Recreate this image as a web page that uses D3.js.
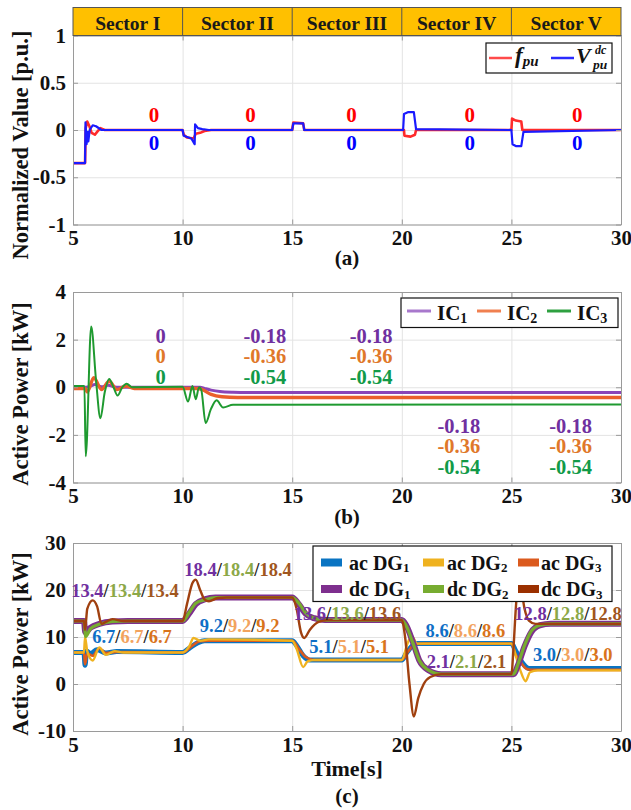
<!DOCTYPE html>
<html>
<head>
<meta charset="utf-8">
<script src="https://cdn.jsdelivr.net/npm/d3@7"></script>
<style>
body { margin: 0; background: #fff; }
svg { display: block; }
</style>
</head>
<body>
<div id="vis"></div>
<script>
const FRAME_WIDTH = 631;
const FRAME_HEIGHT = 810;
const PLOT_LEFT = 73, PLOT_RIGHT = 621;
const SERIF = "'Liberation Serif', 'Times New Roman', serif";
const GRID = "#e3e3e3";

// ------------------------------------------------------------
// data
// ------------------------------------------------------------
const TIME_TICKS = [5, 10, 15, 20, 25, 30];
const SECTORS = ["Sector I", "Sector II", "Sector III", "Sector IV", "Sector V"];

// (a) normalized values
const A_TICKS = [-1, -0.5, 0, 0.5, 1];
const fPu = [[5,-0.35],[5.55,-0.35],[5.58,0.02],[5.65,0.09],[5.75,0.04],[5.85,-0.03],[6.0,-0.05],
  [6.1,-0.02],[6.25,0.02],[6.45,0],[10.0,0],[10.05,-0.05],[10.2,-0.08],[10.5,-0.09],[10.6,-0.04],
  [10.8,-0.03],[11.0,-0.01],[11.3,0],[15.0,0],[15.05,0.08],[15.5,0.07],[15.55,0],[20.1,0],
  [20.12,-0.06],[20.4,-0.07],[20.6,-0.05],[20.65,0],[25.0,0],[25.03,0.12],[25.2,0.1],[25.45,0.09],
  [25.5,0],[30,0]];
const vDcPu = [[5,-0.35],[5.55,-0.35],[5.57,0.08],[5.62,-0.15],[5.66,-0.02],[5.7,-0.12],[5.76,0],
  [5.9,0.05],[6.05,0.04],[6.3,0],[10.0,0],[10.05,-0.06],[10.4,-0.09],[10.55,-0.15],[10.57,0.06],
  [10.7,0.02],[10.9,0.01],[11.2,0],[15.0,0],[15.05,0.07],[15.5,0.07],[15.55,0],[20.06,0],
  [20.1,0.17],[20.3,0.19],[20.55,0.19],[20.65,0.01],[25.0,0],[25.05,-0.15],[25.2,-0.17],
  [25.45,-0.17],[25.55,-0.02],[30,0]];
const A_NOTE_TIMES = [8.7, 13.1, 17.7, 23.1, 28.0];
const A_NOTES_F = ["0", "0", "0", "0", "0"];
const A_NOTES_V = ["0", "0", "0", "0", "0"];

// (b) interlinking converter power
const B_TICKS = [-4, -2, 0, 2, 4];
const ic1 = [[5,0],[5.6,0],[5.8,0.05],[6.0,0.12],[6.3,0.02],[6.6,0.08],[7.0,0],[10.8,0],[11.0,-0.05],
  [11.3,-0.12],[11.7,-0.18],[12.3,-0.21],[13,-0.22],[30,-0.22]];
const ic2 = [[5,-0.05],[5.55,-0.05],[5.65,-0.2],[5.95,0.4],[6.3,-0.1],[6.65,0.25],[7.0,-0.1],[7.4,0.05],
  [7.8,-0.05],[10.7,-0.05],[10.9,-0.1],[11.3,-0.3],[11.8,-0.4],[12.5,-0.43],[30,-0.43]];
const ic3 = [[5,0.05],[5.52,0.05],[5.58,-2.9],[5.83,2.55],[6.05,0.3],[6.25,-1.3],[6.45,-0.2],[6.65,0.35],
  [6.85,0],[7.03,-0.35],[7.25,0],[7.45,0.15],[7.7,0],[10.0,0.02],[10.25,-0.6],[10.45,0.05],[10.6,-0.5],
  [10.75,0],[10.85,-0.1],[11.05,-1.5],[11.3,-0.9],[11.55,-0.55],[11.85,-0.85],[12.3,-0.74],[30,-0.72]];
const B_NOTE_TIMES = [9.0, 13.75, 18.6, 22.6, 27.7];
const B_NOTES_IC1 = ["0", "-0.18", "-0.18", "-0.18", "-0.18"];
const B_NOTES_IC2 = ["0", "-0.36", "-0.36", "-0.36", "-0.36"];
const B_NOTES_IC3 = ["0", "-0.54", "-0.54", "-0.54", "-0.54"];

// (c) DG power
const C_TICKS = [-10, 0, 10, 20, 30];
const acDg1 = [[5,6.7],[5.5,6.7],[5.55,4],[5.62,7],[5.8,6.5],[6.1,7.3],[6.5,6.6],[7,6.9],[10,6.7],[10.3,7.6],
  [10.7,8.8],[11,9.2],[15,9.2],[15.2,8.2],[15.5,6],[15.8,5.1],[20,5.1],[20.2,6.5],[20.5,8.2],[20.7,8.6],
  [25,8.6],[25.2,7],[25.5,4.5],[25.8,3.3],[30,3.3]];
const acDg2 = [[5,6.7],[5.5,6.7],[5.55,10],[5.65,7],[5.9,5],[6.2,7.8],[6.5,6.2],[6.9,7],[7.3,6.7],[10,6.7],
  [10.3,8],[10.5,9.8],[10.8,9.2],[11.2,9.5],[15,9.2],[15.2,7.5],[15.5,3.6],[15.7,4.8],[16,5.1],[20,5.1],
  [20.25,8.5],[20.45,10.2],[20.7,8.6],[25,8.6],[25.2,6],[25.4,3],[25.65,0.6],[25.85,2.5],[26.2,2.9],[30,2.9]];
const acDg3 = [[5,6.7],[5.5,6.7],[5.55,4.2],[5.65,6.5],[5.9,6],[6.2,7.6],[6.5,6.6],[7,6.8],[10,6.7],[10.4,8],
  [10.8,9.1],[11.2,9.2],[15,9.2],[15.3,7.5],[15.6,5.8],[16,5.1],[20,5.1],[20.3,7],[20.6,8.5],[21,8.6],
  [25,8.6],[25.2,6.2],[25.4,4.8],[25.7,3.2],[26,3.0],[30,3.0]];
const dcDg1 = [[5,13.4],[5.5,13.4],[5.56,11],[5.8,12],[6.2,12.8],[6.8,13.3],[7.5,13.4],[10,13.4],[10.3,15],
  [10.6,17],[11,18],[11.5,18.4],[15,18.4],[15.3,17],[15.6,15],[16,14],[16.5,13.6],[20,13.6],[20.2,12.5],
  [20.5,9],[20.8,5],[21.2,3],[21.8,2.1],[25.1,2.1],[25.3,4],[25.6,8],[25.9,11],[26.3,12.5],[26.8,12.8],[30,12.8]];
const dcDg2 = [[5,13.4],[5.5,13.4],[5.58,10.1],[5.8,11.8],[6.2,12.7],[6.8,13.3],[7.5,13.4],[10,13.4],[10.3,15.2],
  [10.6,17.2],[11,17.9],[11.5,18.4],[15,18.4],[15.3,17.2],[15.6,15.2],[16,14],[16.5,13.6],[20,13.6],[20.2,12.4],
  [20.5,8.8],[20.8,5],[21.2,3],[21.8,2.1],[25.1,2.1],[25.3,4.2],[25.6,8.2],[25.9,11.2],[26.3,12.5],[26.8,12.8],[30,12.8]];
const dcDg3 = [[5,13.4],[5.5,13.4],[5.55,11.5],[5.65,16],[5.9,17.8],[6.1,16.5],[6.3,12.8],[6.5,13.2],[6.8,13.8],
  [7.3,13.4],[10,13.4],[10.2,17],[10.45,21.5],[10.6,22.2],[10.8,20],[11.0,18],[11.2,17.6],[11.6,18.3],[12,18.4],
  [15,18.4],[15.2,16],[15.4,11],[15.55,9.8],[15.8,11.5],[16.2,13.2],[16.6,13.6],[20,13.6],[20.15,10],[20.35,0],
  [20.55,-6.9],[20.75,-3],[21,0],[21.3,1.5],[21.8,2.1],[25,2.1],[25.1,8],[25.2,16],[25.3,21],[25.45,20],
  [25.6,16],[25.8,13.5],[26.1,12.8],[30,12.8]];
const C_NOTES_DC = ["13.4", "18.4", "13.6", "2.1", "12.8"];
const C_NOTES_AC = ["6.7", "9.2", "5.1", "8.6", "3.0"];

// ------------------------------------------------------------
// layout
// ------------------------------------------------------------
const PANEL_A = {top: 35.5, bottom: 224.5};
const PANEL_B = {top: 292, bottom: 482.5};
const PANEL_C = {top: 543, bottom: 731};

const svg = d3.select("#vis").append("svg")
  .attr("width", FRAME_WIDTH).attr("height", FRAME_HEIGHT)
  .attr("font-family", SERIF).attr("font-weight", "bold");

const X = d3.scaleLinear().domain([5, 30]).range([PLOT_LEFT, PLOT_RIGHT]);
const YA = d3.scaleLinear().domain([-1, 1]).range([PANEL_A.bottom, PANEL_A.top]);
const YB = d3.scaleLinear().domain([-4, 4]).range([PANEL_B.bottom, PANEL_B.top]);
const YC = d3.scaleLinear().domain([-10, 30]).range([PANEL_C.bottom, PANEL_C.top]);

function drawGrid(Y, yTicks, p, id) {
  const h = p.bottom - p.top, w = PLOT_RIGHT - PLOT_LEFT;
  svg.append("rect").attr("x", PLOT_LEFT).attr("y", p.top).attr("width", w).attr("height", h).attr("fill", "#fff");
  svg.append("g").attr("transform", "translate(0," + p.bottom + ")")
    .call(d3.axisBottom(X).tickValues(TIME_TICKS).tickSize(-h).tickFormat(""))
    .call(g => g.select(".domain").remove())
    .selectAll("line").attr("stroke", GRID);
  svg.append("g").attr("transform", "translate(" + PLOT_LEFT + ",0)")
    .call(d3.axisLeft(Y).tickValues(yTicks).tickSize(-w).tickFormat(""))
    .call(g => g.select(".domain").remove())
    .selectAll("line").attr("stroke", GRID);
  svg.append("clipPath").attr("id", id).append("rect")
    .attr("x", PLOT_LEFT).attr("y", p.top).attr("width", w).attr("height", h);
  return svg.append("g").attr("clip-path", "url(#" + id + ")");
}

function drawAxes(Y, yTicks, p) {
  const style = g => g.attr("font-family", SERIF).attr("font-size", 21).attr("font-weight", "bold")
    .call(s => s.select(".domain").attr("stroke", "#9a9a9a"))
    .call(s => s.selectAll(".tick line").attr("stroke", "#9a9a9a"))
    .call(s => s.selectAll("text").attr("fill", "#111"));
  svg.append("g").attr("transform", "translate(0," + p.bottom + ")")
    .call(d3.axisBottom(X).tickValues(TIME_TICKS).tickSize(-5).tickPadding(6).tickSizeOuter(0)).call(style);
  svg.append("g").attr("transform", "translate(0," + p.top + ")")
    .call(d3.axisTop(X).tickValues(TIME_TICKS).tickSize(-5).tickFormat("").tickSizeOuter(0)).call(style);
  svg.append("g").attr("transform", "translate(" + PLOT_LEFT + ",0)")
    .call(d3.axisLeft(Y).tickValues(yTicks).tickSize(-5).tickPadding(7).tickSizeOuter(0)
      .tickFormat(d => String(d))).call(style);
  svg.append("g").attr("transform", "translate(" + PLOT_RIGHT + ",0)")
    .call(d3.axisRight(Y).tickValues(yTicks).tickSize(-5).tickFormat("").tickSizeOuter(0)).call(style);
}

function yTitle(text, cy) {
  svg.append("text").attr("transform", "translate(28," + cy + ") rotate(-90)")
    .attr("text-anchor", "middle").attr("font-size", 22.5).attr("fill", "#111").text(text);
}

function caption(text, y) {
  svg.append("text").attr("x", X(17.5)).attr("y", y).attr("text-anchor", "middle")
    .attr("font-size", 21).attr("fill", "#111").text(text);
}

function path(g, Y, data, color, width, curve) {
  g.append("path").datum(data)
    .attr("fill", "none").attr("stroke", color).attr("stroke-width", width)
    .attr("stroke-linejoin", "round")
    .attr("d", d3.line().x(d => X(d[0])).y(d => Y(d[1])).curve(curve));
}

// ------------------------------------------------------------
// (a)
// ------------------------------------------------------------
const gA = drawGrid(YA, A_TICKS, PANEL_A, "clipA");
path(gA, YA, fPu, "#ff2a2a", 2.6, d3.curveLinear);
path(gA, YA, vDcPu, "#1a1aff", 2.2, d3.curveLinear);
drawAxes(YA, A_TICKS, PANEL_A);

// sector header
svg.append("rect").attr("x", PLOT_LEFT).attr("y", 7.5).attr("width", PLOT_RIGHT - PLOT_LEFT).attr("height", 28)
  .attr("fill", "#ffc000").attr("stroke", "#555").attr("stroke-width", 1);
svg.selectAll(".divider").data(TIME_TICKS.slice(1, -1)).enter().append("line")
  .attr("x1", d => X(d)).attr("x2", d => X(d)).attr("y1", 7.5).attr("y2", 35.5)
  .attr("stroke", "#555").attr("stroke-width", 1);
svg.selectAll(".sector").data(SECTORS).enter().append("text")
  .attr("x", (d, i) => X(TIME_TICKS[i] + 2.5)).attr("y", 29.5)
  .attr("text-anchor", "middle").attr("font-size", 19.5).attr("fill", "#1a1a1a").text(d => d);

svg.selectAll(".noteF").data(A_NOTES_F).enter().append("text")
  .attr("x", (d, i) => X(A_NOTE_TIMES[i])).attr("y", YA(0.166)).attr("dy", "0.35em")
  .attr("text-anchor", "middle").attr("font-size", 21).attr("fill", "#ff0000").text(d => d);
svg.selectAll(".noteV").data(A_NOTES_V).enter().append("text")
  .attr("x", (d, i) => X(A_NOTE_TIMES[i])).attr("y", YA(-0.13)).attr("dy", "0.35em")
  .attr("text-anchor", "middle").attr("font-size", 21).attr("fill", "#0000ff").text(d => d);

// legend (a)
const legA = svg.append("g");
legA.append("rect").attr("x", 486).attr("y", 43).attr("width", 126).attr("height", 30)
  .attr("fill", "#fff").attr("stroke", "#111").attr("stroke-width", 1.2);
legA.append("line").attr("x1", 489).attr("x2", 512).attr("y1", 58).attr("y2", 58)
  .attr("stroke", "#ff4a4a").attr("stroke-width", 2.5);
legA.append("line").attr("x1", 551).attr("x2", 574).attr("y1", 58).attr("y2", 58)
  .attr("stroke", "#2a2aff").attr("stroke-width", 2.5);
const fTxt = legA.append("text").attr("x", 515).attr("y", 63).attr("font-style", "italic").attr("fill", "#111");
fTxt.append("tspan").attr("font-size", 23).text("f");
fTxt.append("tspan").attr("font-size", 15).attr("dy", 3).text("pu");
legA.append("text").attr("x", 576).attr("y", 63).attr("font-style", "italic").attr("font-size", 22)
  .attr("fill", "#111").text("V");
legA.append("text").attr("x", 595).attr("y", 54).attr("font-style", "italic").attr("font-size", 12)
  .attr("fill", "#111").text("dc");
legA.append("text").attr("x", 593).attr("y", 69).attr("font-style", "italic").attr("font-size", 13.5)
  .attr("fill", "#111").text("pu");

yTitle("Normalized Value [p.u.]", 145);
caption("(a)", 265);

// ------------------------------------------------------------
// (b)
// ------------------------------------------------------------
const gB = drawGrid(YB, B_TICKS, PANEL_B, "clipB");
path(gB, YB, ic1, "#8a45b8", 3, d3.curveMonotoneX);
path(gB, YB, ic2, "#ea5f2a", 3.4, d3.curveMonotoneX);
path(gB, YB, ic3, "#1f9a30", 2, d3.curveMonotoneX);
drawAxes(YB, B_TICKS, PANEL_B);

const B_COLORS = ["#7030a0", "#e0782a", "#119a48"];
const B_NOTE_Y_UP = [2.17, 1.33, 0.45];
const B_NOTE_Y_LOW = [-1.6, -2.45, -3.33];
[B_NOTES_IC1, B_NOTES_IC2, B_NOTES_IC3].forEach((notes, r) => {
  svg.selectAll(".noteB" + r).data(notes).enter().append("text")
    .attr("x", (d, i) => X(B_NOTE_TIMES[i]))
    .attr("y", (d, i) => YB(i < 3 ? B_NOTE_Y_UP[r] : B_NOTE_Y_LOW[r])).attr("dy", "0.35em")
    .attr("text-anchor", "middle").attr("font-size", 20.5).attr("fill", B_COLORS[r]).text(d => d);
});

// legend (b)
const legB = svg.append("g");
legB.append("rect").attr("x", 401).attr("y", 298).attr("width", 217).attr("height", 29.5)
  .attr("fill", "#fff").attr("stroke", "#111").attr("stroke-width", 1.2);
const B_LEG_X = [407, 477, 547];
const B_LEG_COLORS = ["#a878cc", "#f08050", "#2ea040"];
["1", "2", "3"].forEach((s, i) => {
  legB.append("line").attr("x1", B_LEG_X[i]).attr("x2", B_LEG_X[i] + 24).attr("y1", 311).attr("y2", 311)
    .attr("stroke", B_LEG_COLORS[i]).attr("stroke-width", 3);
  const t = legB.append("text").attr("x", B_LEG_X[i] + 30).attr("y", 319.5).attr("fill", "#111");
  t.append("tspan").attr("font-size", 21).text("IC");
  t.append("tspan").attr("font-size", 14).attr("dy", 3).text(s);
});

yTitle("Active Power [kW]", 394);
caption("(b)", 524);

// ------------------------------------------------------------
// (c)
// ------------------------------------------------------------
const gC = drawGrid(YC, C_TICKS, PANEL_C, "clipC");
path(gC, YC, acDg1, "#0a74c2", 5, d3.curveMonotoneX);
path(gC, YC, acDg3, "#db5a1e", 2.6, d3.curveMonotoneX);
path(gC, YC, acDg2, "#efb21f", 2.4, d3.curveMonotoneX);
path(gC, YC, dcDg1, "#7e2f8e", 6, d3.curveMonotoneX);
path(gC, YC, dcDg2, "#77ac30", 3.2, d3.curveMonotoneX);
path(gC, YC, dcDg3, "#a0400f", 2.4, d3.curveMonotoneX);
drawAxes(YC, C_TICKS, PANEL_C);

const C_DC_COLORS = ["#7030a0", "#8ca848", "#a0561e"];
const C_AC_COLORS = ["#0f6fc6", "#f2a35e", "#d9741c"];
const C_DC_POS = [[7.37, 19.9], [12.53, 24.3], [17.52, 15.1], [22.95, 4.7], [27.58, 15.1]];
const C_AC_POS = [[7.69, 10.06], [12.6, 12.4], [17.6, 7.9], [22.9, 11.3], [27.8, 6.2]];
function tripleNote(value, pos, colors) {
  const t = svg.append("text").attr("x", X(pos[0])).attr("y", YC(pos[1])).attr("dy", "0.35em")
    .attr("text-anchor", "middle").attr("font-size", 18.5);
  colors.forEach((c, k) => {
    t.append("tspan").attr("fill", c).text(value);
    if (k < 2) t.append("tspan").attr("fill", "#222").text("/");
  });
}
C_NOTES_DC.forEach((v, i) => tripleNote(v, C_DC_POS[i], C_DC_COLORS));
C_NOTES_AC.forEach((v, i) => tripleNote(v, C_AC_POS[i], C_AC_COLORS));

// legend (c)
const legC = svg.append("g");
legC.append("rect").attr("x", 313).attr("y", 546).attr("width", 299).attr("height", 55.5)
  .attr("fill", "#fff").attr("stroke", "#111").attr("stroke-width", 1.2);
const C_LEG_NAMES = [["ac DG", "1"], ["ac DG", "2"], ["ac DG", "3"], ["dc DG", "1"], ["dc DG", "2"], ["dc DG", "3"]];
const C_LEG_COLORS = ["#0a74c2", "#efb21f", "#db5a1e", "#7e2f8e", "#77ac30", "#9b3000"];
const C_LEG_SW = [321, 423, 518];
const C_LEG_TX = [349, 447, 541];
C_LEG_NAMES.forEach((n, i) => {
  const col = i % 3, row = Math.floor(i / 3);
  const cy = row === 0 ? 562.5 : 589;
  legC.append("rect").attr("x", C_LEG_SW[col]).attr("y", cy - 4).attr("width", 21).attr("height", 8)
    .attr("fill", C_LEG_COLORS[i]);
  const t = legC.append("text").attr("x", C_LEG_TX[col]).attr("y", cy + 7).attr("fill", "#111");
  t.append("tspan").attr("font-size", 20).text(n[0]);
  t.append("tspan").attr("font-size", 13).attr("dy", 2.5).text(n[1]);
});

yTitle("Active Power [kW]", 644);
svg.append("text").attr("x", X(17.5)).attr("y", 776).attr("text-anchor", "middle")
  .attr("font-size", 22).attr("fill", "#111").text("Time[s]");
caption("(c)", 803);
</script>
</body>
</html>
